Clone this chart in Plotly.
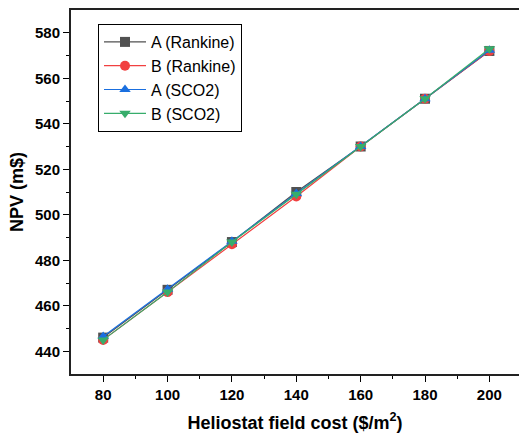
import plotly.graph_objects as go

# Heliostat field cost ($/m2) and NPV (m$) for each configuration
cost = [80, 100, 120, 140, 160, 180, 200]
npv_a_rankine = [446.0, 467.0, 488.0, 510.0, 530.0, 551.0, 572.0]
npv_b_rankine = [445.0, 466.0, 487.0, 508.0, 530.0, 551.0, 572.0]
npv_a_sco2 = [446.5, 467.2, 488.3, 509.3, 530.0, 551.0, 572.3]
npv_b_sco2 = [445.0, 466.0, 488.0, 509.0, 530.0, 551.0, 573.0]

series_names = ["A (Rankine)", "B (Rankine)", "A (SCO2)", "B (SCO2)"]
series_values = [npv_a_rankine, npv_b_rankine, npv_a_sco2, npv_b_sco2]
colors = ["#515151", "#F14040", "#1A6FDF", "#37AD6B"]
symbols = ["square", "circle", "triangle-up", "triangle-down"]

FONT = "Arial, 'Liberation Sans', sans-serif"
X_RANGE = [70, 209.2]
Y_RANGE = [430, 590]
Y_TICKS = [440, 460, 480, 500, 520, 540, 560, 580]
Y_MINOR = [450, 470, 490, 510, 530, 550, 570]
X_MINOR = [90, 110, 130, 150, 170, 190]

fig = go.Figure()
for name, vals, col, sym in zip(series_names, series_values, colors, symbols):
    fig.add_trace(go.Scatter(
        x=cost, y=vals, name=name, mode="lines+markers",
        line=dict(color=col, width=1.2),
        marker=dict(symbol=sym, size=10, color=col, line=dict(width=0)),
    ))

axis_common = dict(showgrid=False, zeroline=False, color="black")
tick_font = dict(family=FONT, size=15, color="black", weight="bold")
title_font = dict(family=FONT, size=18, color="black", weight="bold")

fig.update_layout(
    width=519, height=437,
    margin=dict(l=71, r=0, t=10, b=63),
    paper_bgcolor="white", plot_bgcolor="white",
    font=dict(family=FONT, color="black"),
    showlegend=True,
    legend=dict(
        x=(98 - 71) / 448, y=1 - 14 / 364, xanchor="left", yanchor="top",
        bgcolor="white", bordercolor="black", borderwidth=1,
        font=dict(family=FONT, size=16, color="black"),
        tracegroupgap=0, itemwidth=42,
    ),
    xaxis=dict(
        **axis_common, range=X_RANGE, tickmode="array",
        tickvals=cost, ticktext=[str(c) for c in cost],
        ticks="outside", ticklen=6, tickwidth=1.3,
        minor=dict(tickmode="array", tickvals=X_MINOR,
                   ticks="outside", ticklen=3, tickwidth=1),
        showline=True, linewidth=2, linecolor="#222", mirror=True,
        tickfont=tick_font,
        title=dict(text="Heliostat field cost ($/m<sup>2</sup>)", standoff=14,
                   font=title_font),
    ),
    yaxis=dict(
        **axis_common, range=Y_RANGE, tickmode="array", tickvals=Y_TICKS,
        ticks="outside", ticklen=6, tickwidth=1.3,
        minor=dict(tickmode="array", tickvals=Y_MINOR,
                   ticks="outside", ticklen=3, tickwidth=1),
        showline=True, linewidth=2, linecolor="#222", mirror=False,
        tickfont=tick_font,
        title=dict(text="NPV (m$)", standoff=7, font=title_font),
    ),
    # opposite-side axes carrying inward-pointing tick marks only
    xaxis2=dict(
        **axis_common, overlaying="x", side="top", anchor="y", range=X_RANGE,
        tickmode="array", tickvals=cost, ticks="inside", ticklen=6, tickwidth=1.3,
        minor=dict(tickmode="array", tickvals=X_MINOR,
                   ticks="inside", ticklen=3, tickwidth=1),
        showticklabels=False, showline=False,
    ),
    yaxis2=dict(
        **axis_common, overlaying="y", side="right", anchor="x", range=Y_RANGE,
        tickmode="array", tickvals=Y_TICKS,
        ticks="inside", ticklen=6, tickwidth=1.3,
        minor=dict(tickmode="array", tickvals=Y_MINOR,
                   ticks="inside", ticklen=3, tickwidth=1),
        showticklabels=False, showline=False,
    ),
)

fig.write_html("out.html")
